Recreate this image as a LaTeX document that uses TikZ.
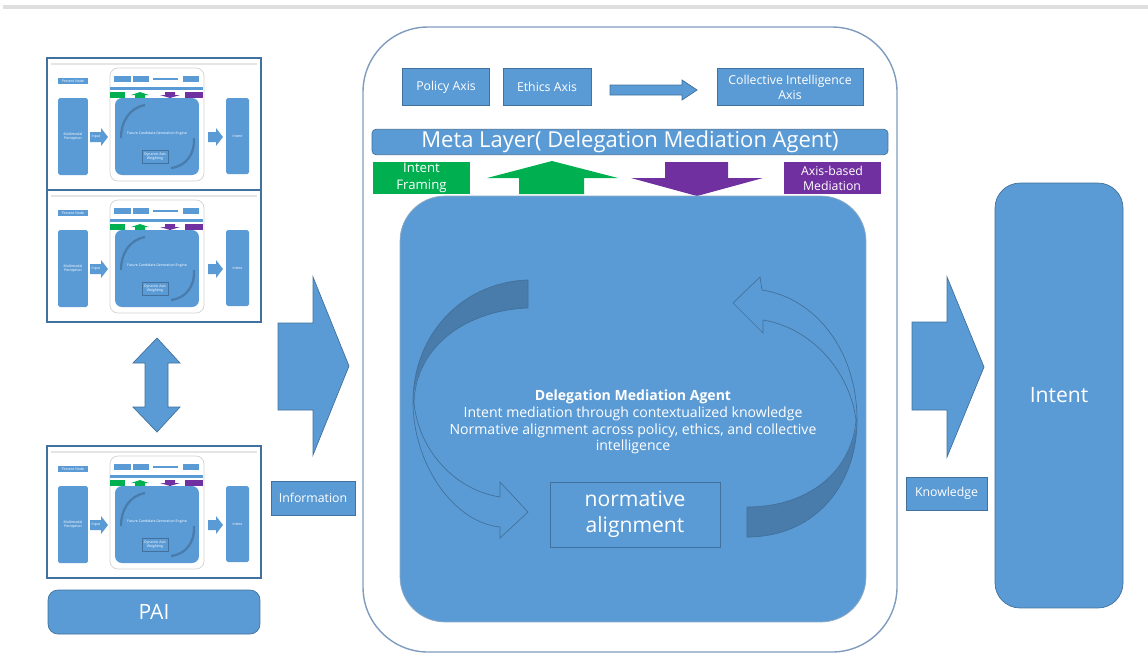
\documentclass[tikz,border=0pt]{standalone}
\usepackage{fontspec}
\setmainfont{Open Sans}
\usetikzlibrary{positioning}

\definecolor{ppblue}{HTML}{5B9BD5}
\definecolor{ppedge}{HTML}{41719C}
\definecolor{ppdark}{HTML}{497CAA}
\definecolor{ppgreen}{HTML}{00B050}
\definecolor{pppurple}{HTML}{7030A0}
\definecolor{ppframe}{HTML}{7F9CBF}

\tikzset{
  box/.style={rectangle, draw=ppedge, fill=ppblue, text=white, inner sep=1pt, outer sep=0pt, align=center, font=\fontsize{7}{8.5}\selectfont},
  blockarrow/.style={fill=ppblue, draw=ppedge, line width=0.4pt},
  ribbon/.style={draw=ppedge, line width=0.4pt},
  minibox/.style={rectangle, fill=ppblue, text=white, inner sep=0pt, outer sep=0pt, align=center, font=\fontsize{2}{2.4}\selectfont},
  miniarrow/.style={fill=ppblue, draw=none}
}

% one small copy of the node diagram
\newcommand{\minislide}[2]{%
\begin{scope}[shift={#2}]
  \draw[draw=ppedge, line width=0.6pt, fill=white] (0,0) rectangle (214,132);
  \draw[gray!20, line width=0.8pt] (4,6) -- (210,6);
  \node[minibox, minimum width=0.6cm, minimum height=0.12cm] (#1-node) at (26,23) {Present Node};
  \node[minibox, rounded corners=1pt, minimum width=0.6cm, minimum height=1.54cm] (#1-mm) at (26,78.5) {Multimodal\\Perception};
  \draw[miniarrow] (43,74) -- (54,74) -- (54,70) -- (61,79) -- (54,88) -- (54,84) -- (43,84) -- cycle;
  \node[minibox, fill=none] (#1-in) at (49,79) {Input};
  \draw[gray!35, fill=white, rounded corners=0.16cm] (63,10) rectangle (157,123);
  \node[minibox, minimum width=0.34cm, minimum height=0.12cm] (#1-a1) at (75.5,21) {};
  \node[minibox, minimum width=0.32cm, minimum height=0.12cm] (#1-a2) at (94,21) {};
  \node[minibox, minimum width=0.32cm, minimum height=0.12cm] (#1-a3) at (144,21) {};
  \draw[ppblue, line width=0.8pt] (#1-a2.east) ++(4,0) -- ([xshift=-0.1cm]#1-a3.west);
  \fill[ppblue] (63,29) rectangle (156,32);
  \fill[ppgreen] (63,34) rectangle (78,40);
  \fill[ppgreen] (88,40) -- (88,37) -- (84,37) -- (93,34) -- (102,37) -- (98,37) -- (98,40) -- cycle;
  \fill[pppurple] (118,34) -- (128,34) -- (128,37) -- (133,37) -- (123,40) -- (113,37) -- (118,37) -- cycle;
  \fill[pppurple] (138,34) rectangle (156,40);
  \node[minibox, rounded corners=0.14cm, minimum width=1.68cm, minimum height=1.54cm] (#1-core) at (110,78.5) {};
  \draw[ppdark, line width=1.3pt] (98,47) .. controls (82,50) and (74,64) .. (74,80);
  \draw[ppdark, line width=1.3pt] (124,110) .. controls (140,108) and (148,95) .. (147,80);
  \node[minibox, fill=none] (#1-eng) at (110,76) {Future Candidate Generation Engine};
  \node[minibox, draw=ppedge, line width=0.2pt, minimum width=0.52cm, minimum height=0.26cm] (#1-dyn) at (108,98.5) {Dynamic Axis\\Weighting};
  \draw[miniarrow] (161,74) -- (169,74) -- (169,70) -- (176,79) -- (169,88) -- (169,84) -- (161,84) -- cycle;
  \node[minibox, rounded corners=1pt, minimum width=0.46cm, minimum height=1.52cm] (#1-int) at (190.5,78) {Intent};
\end{scope}}

\begin{document}
\begin{tikzpicture}[x=0.02cm, y=-0.02cm]
\useasboundingbox (0,0) rectangle (1148,654);

% top rule
\fill[gray!25] (3,5) rectangle (1148,9);

% PAI copies
\minislide{s1}{(47,58)}
\minislide{s2}{(47,190)}
\minislide{s3}{(47,446)}

\draw[blockarrow] (157,338) -- (180,363) -- (168,363) -- (168,407) -- (180,407) -- (157,432) -- (133,407) -- (145,407) -- (145,363) -- (133,363) -- cycle;

\node[box, rounded corners=0.2cm, minimum width=4.24cm, minimum height=0.88cm, font=\fontsize{12}{14}\selectfont] (pai) at (154,612) {PAI};

% information
\draw[blockarrow] (278,323) -- (313,323) -- (313,277) -- (349,366) -- (313,455) -- (313,410) -- (278,410) -- cycle;
\node[box, minimum width=1.68cm, minimum height=0.68cm] (info) at (313,498) {Information};

% delegation mediation agent
\draw[draw=ppframe, line width=0.8pt, fill=white, rounded corners=1.3cm] (363,27) rectangle (897,652);

\node[box, minimum width=1.74cm, minimum height=0.74cm] (policy) at (446,87) {Policy Axis};
\node[box, minimum width=1.76cm, minimum height=0.74cm] (ethics) at (547,87) {Ethics Axis};
\node[box, minimum width=2.92cm, minimum height=0.74cm] (collective) at (790,87) {Collective Intelligence\\Axis};
\draw[blockarrow] (610,85) -- (682,85) -- (682,80) -- (697,90) -- (682,100) -- (682,95) -- (610,95) -- cycle;

\node[box, rounded corners=0.08cm, minimum width=10.32cm, minimum height=0.5cm, font=\fontsize{12.5}{14}\selectfont] (meta) at (630,142) {Meta Layer( Delegation Mediation Agent)};

\node[box, draw=none, fill=ppgreen, minimum width=1.94cm, minimum height=0.64cm, font=\fontsize{7.5}{9.5}\selectfont] (framing) at (421.5,178) {Intent\\Framing};
\node[box, draw=none, fill=pppurple, minimum width=1.94cm, minimum height=0.64cm] (axismed) at (832,178) {Axis-based\\Mediation};
\fill[ppgreen] (519,194) -- (519,178) -- (487,178) -- (552,161) -- (618,178) -- (584,178) -- (584,194) -- cycle;
\fill[pppurple] (665,162) -- (728,162) -- (728,178) -- (763,178) -- (697,196) -- (631,178) -- (665,178) -- cycle;

\node[box, draw=ppedge!60, rounded corners=0.9cm, minimum width=9.32cm, minimum height=8.52cm] (core) at (633,409) {};

% twisted arrows
\fill[ppdark] (528,280) .. controls (462,282) and (413,335) .. (413,402) .. controls (416,345) and (468,310) .. (528,308) -- cycle;
\draw[ribbon] (528,280) .. controls (462,282) and (413,335) .. (413,402) .. controls (413,462) and (452,522) .. (500,527) -- (500,538) -- (528,512) -- (500,482) -- (500,497) .. controls (455,490) and (418,450) .. (414,402) .. controls (416,345) and (468,310) .. (528,308) -- cycle;
\fill[ppdark] (747,537) .. controls (815,537) and (857,485) .. (857,420) .. controls (852,470) and (810,507) .. (747,507) -- cycle;
\draw[ribbon] (747,537) .. controls (815,537) and (857,485) .. (857,420) .. controls (857,350) and (815,298) .. (762,290) -- (760,277) -- (733,303) -- (763,333) -- (763,320) .. controls (812,328) and (850,372) .. (856,420) .. controls (852,470) and (810,507) .. (747,507) -- cycle;

\node[text=white, align=center, font=\fontsize{8}{9.6}\selectfont] (dmatext) at (633,422) {\textbf{Delegation Mediation Agent}\\Intent mediation through contextualized knowledge\\Normative alignment across policy, ethics, and collective\\intelligence};
\node[box, minimum width=3.4cm, minimum height=1.3cm, font=\fontsize{12}{14.7}\selectfont] (norm) at (635,514.5) {normative\\alignment};

% knowledge
\draw[blockarrow] (912,322) -- (947,322) -- (947,277) -- (984,367) -- (947,457) -- (947,410) -- (912,410) -- cycle;
\node[box, minimum width=1.62cm, minimum height=0.66cm] (know) at (946.5,493.5) {Knowledge};

\node[box, rounded corners=0.5cm, minimum width=2.56cm, minimum height=8.5cm, font=\fontsize{12}{14}\selectfont] (intent) at (1059,395.5) {Intent};

\end{tikzpicture}
\end{document}
